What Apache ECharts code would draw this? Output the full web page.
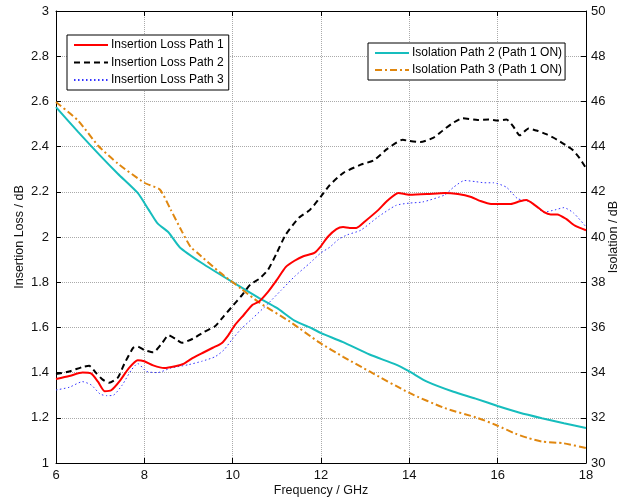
<!DOCTYPE html>
<html>
<head>
<meta charset="utf-8">
<script src="https://cdn.jsdelivr.net/npm/echarts@6/dist/echarts.min.js"></script>
<style>
  html, body { margin: 0; padding: 0; background: #fff; }
  #main { width: 630px; height: 500px; }
</style>
</head>
<body>
<div id="main"></div>
<script>
// frequency ticks / axes
const freqTicks = [6, 8, 10, 12, 14, 16, 18];

// insertion loss (dB), [GHz, dB]
const ilPath1 = [[6,1.372],[6.3,1.385],[6.6,1.40],[6.8,1.395],[6.95,1.36],[7.1,1.318],[7.25,1.322],[7.45,1.365],[7.65,1.42],[7.85,1.455],[8.0,1.45],[8.2,1.432],[8.45,1.42],[8.7,1.428],[8.9,1.44],[9.1,1.465],[9.35,1.49],[9.55,1.51],[9.75,1.53],[9.9,1.565],[10.05,1.61],[10.25,1.655],[10.45,1.70],[10.6,1.715],[10.8,1.757],[11.0,1.81],[11.2,1.867],[11.4,1.895],[11.6,1.915],[11.85,1.93],[12.0,1.96],[12.15,2.0],[12.35,2.035],[12.5,2.044],[12.65,2.04],[12.8,2.04],[13.0,2.07],[13.3,2.12],[13.5,2.16],[13.75,2.195],[14.0,2.187],[14.4,2.19],[14.8,2.195],[15.1,2.19],[15.4,2.177],[15.6,2.16],[15.85,2.146],[16.1,2.146],[16.3,2.146],[16.5,2.158],[16.65,2.164],[16.85,2.14],[17.05,2.11],[17.2,2.1],[17.35,2.1],[17.55,2.08],[17.75,2.05],[18,2.03]];
const ilPath2 = [[6,1.394],[6.3,1.405],[6.6,1.425],[6.75,1.43],[6.9,1.40],[7.05,1.37],[7.2,1.355],[7.4,1.378],[7.55,1.44],[7.75,1.51],[7.85,1.515],[8.0,1.50],[8.2,1.49],[8.4,1.53],[8.55,1.565],[8.7,1.55],[8.85,1.532],[9.1,1.55],[9.35,1.58],[9.6,1.605],[9.8,1.65],[10.0,1.695],[10.2,1.74],[10.4,1.79],[10.6,1.815],[10.8,1.855],[11.0,1.93],[11.2,2.01],[11.5,2.085],[11.75,2.12],[12.0,2.18],[12.2,2.23],[12.5,2.283],[12.9,2.32],[13.2,2.34],[13.5,2.39],[13.85,2.43],[14.0,2.425],[14.25,2.42],[14.55,2.44],[14.75,2.47],[14.95,2.50],[15.2,2.525],[15.55,2.518],[15.8,2.52],[16.0,2.515],[16.2,2.52],[16.35,2.49],[16.5,2.45],[16.7,2.48],[16.9,2.47],[17.1,2.455],[17.35,2.43],[17.55,2.405],[17.7,2.385],[17.85,2.35],[18,2.305]];
const ilPath3 = [[6,1.323],[6.3,1.335],[6.6,1.36],[6.8,1.345],[7.0,1.305],[7.15,1.298],[7.3,1.30],[7.5,1.345],[7.7,1.41],[7.85,1.44],[8.05,1.405],[8.3,1.40],[8.6,1.42],[9.0,1.435],[9.3,1.45],[9.6,1.47],[9.8,1.50],[10.0,1.55],[10.2,1.595],[10.45,1.64],[10.8,1.705],[11.1,1.765],[11.4,1.825],[11.75,1.885],[12.0,1.93],[12.2,1.955],[12.4,1.99],[12.6,2.01],[12.9,2.03],[13.3,2.09],[13.7,2.14],[14.0,2.15],[14.3,2.155],[14.8,2.186],[15.0,2.22],[15.25,2.25],[15.5,2.245],[15.7,2.24],[15.9,2.24],[16.2,2.22],[16.45,2.17],[16.75,2.155],[17.05,2.11],[17.3,2.12],[17.5,2.13],[17.72,2.106],[18,2.045]];

// isolation (dB), [GHz, dB]
const isoPath2 = [[6,45.75],[6.5,44.65],[7.0,43.6],[7.4,42.8],[7.85,41.95],[8.1,41.2],[8.3,40.6],[8.55,40.2],[8.8,39.55],[9.3,38.85],[10,38.0],[10.6,37.3],[11.0,36.86],[11.4,36.3],[11.8,35.95],[12.0,35.75],[12.5,35.35],[13.1,34.8],[13.7,34.35],[14.0,34.05],[14.4,33.6],[15.0,33.15],[15.5,32.85],[16.0,32.52],[16.5,32.22],[17.0,31.98],[17.5,31.76],[18,31.55]];
const isoPath3 = [[6,45.97],[6.5,45.15],[6.95,44.05],[7.4,43.25],[8.0,42.4],[8.35,42.1],[8.6,41.2],[8.85,40.25],[9.05,39.55],[9.2,39.3],[9.7,38.45],[10.2,37.7],[10.6,37.1],[11.3,36.25],[11.95,35.35],[12.5,34.7],[13.1,34.05],[14.0,33.1],[14.8,32.43],[15.55,31.99],[16.0,31.65],[16.4,31.3],[16.7,31.1],[17.0,30.95],[17.5,30.87],[18,30.66]];

const FONT = 'Liberation Sans, Arial, sans-serif';
const chart = echarts.init(document.getElementById('main'));

const tickLabel = { color: '#111', fontSize: 13, fontFamily: FONT };
const axisLine = { show: true, lineStyle: { color: '#000', width: 1 } };
const grid = { show: true, lineStyle: { color: '#aaa', type: 'dotted', width: 1 } };
// legend shows only the line sample, no symbol
const legendBase = {
    orient: 'vertical',
    itemWidth: 34, itemHeight: 12,
    borderColor: '#000', borderWidth: 1, backgroundColor: '#fff',
    itemStyle: { opacity: 0 },
    textStyle: { color: '#000', fontSize: 12, fontFamily: FONT, padding: [0, 0, 0, -2] }
};

chart.setOption({
    animation: false,
    backgroundColor: '#fff',
    grid: { left: 56, right: 44, top: 11, bottom: 37, outerBoundsMode: 'none', containLabel: false },
    legend: [
        Object.assign({}, legendBase, {
            data: ['Insertion Loss Path 1', 'Insertion Loss Path 2', 'Insertion Loss Path 3'],
            left: 67, top: 35, itemGap: 5.5, padding: [4, 5, 4, 6]
        }),
        Object.assign({}, legendBase, {
            data: ['Isolation Path 2 (Path 1 ON)', 'Isolation Path 3 (Path 1 ON)'],
            left: 368, top: 43, itemGap: 5, padding: [4, 3, 4, 6]
        })
    ],
    xAxis: [
        {
            type: 'value', min: 6, max: 18, interval: 2,
            name: 'Frequency / GHz', nameLocation: 'middle', nameGap: 21, nameMoveOverlap: false,
            nameTextStyle: { color: '#111', fontSize: 12.5, fontFamily: FONT, verticalAlign: 'top' },
            axisLine: axisLine,
            axisTick: { inside: true, length: 5, lineStyle: { color: '#000' } },
            axisLabel: Object.assign({ margin: 6 }, tickLabel),
            splitLine: grid
        },
        {
            type: 'value', min: 6, max: 18, interval: 2, position: 'top',
            axisLine: axisLine,
            axisTick: { inside: true, length: 5, lineStyle: { color: '#000' } },
            axisLabel: { show: false },
            splitLine: { show: false }
        }
    ],
    yAxis: [
        {
            type: 'value', min: 1, max: 3, interval: 0.2,
            name: 'Insertion Loss / dB', nameLocation: 'middle', nameGap: 36, nameRotate: 90, nameMoveOverlap: false,
            nameTextStyle: { color: '#111', fontSize: 12.5, fontFamily: FONT, verticalAlign: 'middle' },
            axisLine: axisLine,
            axisTick: { inside: true, length: 5, lineStyle: { color: '#000' } },
            axisLabel: Object.assign({ margin: 7 }, tickLabel),
            splitLine: grid
        },
        {
            type: 'value', min: 30, max: 50, interval: 2, position: 'right',
            name: 'Isolation / dB', nameLocation: 'middle', nameGap: 28, nameRotate: 90, nameMoveOverlap: false,
            nameTextStyle: { color: '#111', fontSize: 12.5, fontFamily: FONT, verticalAlign: 'middle' },
            axisLine: axisLine,
            axisTick: { inside: true, length: 5, lineStyle: { color: '#000' } },
            axisLabel: Object.assign({ margin: 5 }, tickLabel),
            splitLine: { show: false }
        }
    ],
    series: [
        {
            name: 'Isolation Path 2 (Path 1 ON)', type: 'line', yAxisIndex: 1,
            data: isoPath2, symbol: 'none', smooth: 0.2,
            lineStyle: { color: '#16bdbd', width: 2 }, itemStyle: { color: '#16bdbd' }
        },
        {
            name: 'Isolation Path 3 (Path 1 ON)', type: 'line', yAxisIndex: 1,
            data: isoPath3, symbol: 'none', smooth: 0.2,
            lineStyle: { color: '#e0870f', width: 2, type: [7, 3, 2, 3] }, itemStyle: { color: '#e0870f' }
        },
        {
            name: 'Insertion Loss Path 3', type: 'line',
            data: ilPath3, symbol: 'none', smooth: 0.2,
            lineStyle: { color: '#3333ff', width: 1, type: [1.5, 2.5] }, itemStyle: { color: '#3333ff' }
        },
        {
            name: 'Insertion Loss Path 2', type: 'line',
            data: ilPath2, symbol: 'none', smooth: 0.2,
            lineStyle: { color: '#000', width: 2, type: [6, 4] }, itemStyle: { color: '#000' }
        },
        {
            name: 'Insertion Loss Path 1', type: 'line',
            data: ilPath1, symbol: 'none', smooth: 0.2,
            lineStyle: { color: '#ff0000', width: 2 }, itemStyle: { color: '#ff0000' }
        }
    ]
});
</script>
</body>
</html>
